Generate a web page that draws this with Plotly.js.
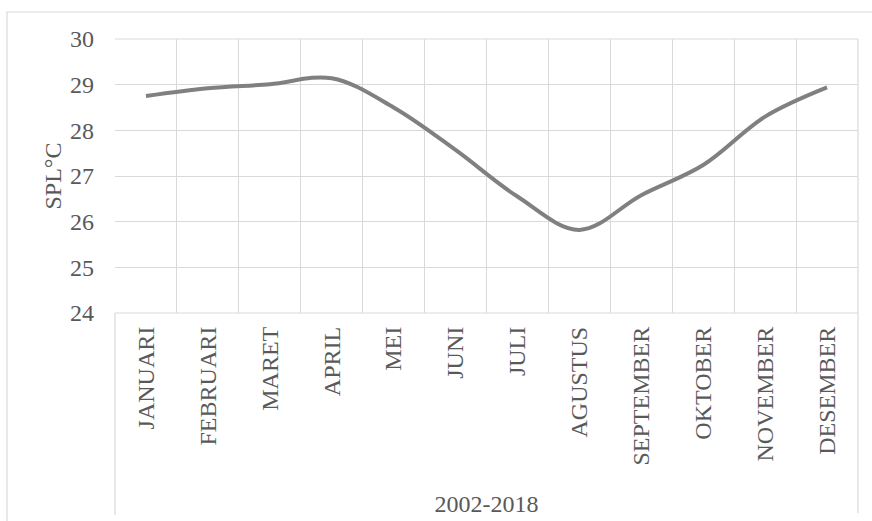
<!DOCTYPE html>
<html>
<head>
<meta charset="utf-8">
<script src="https://cdn.plot.ly/plotly-3.0.1.min.js"></script>
<style>
  html, body { margin: 0; padding: 0; background: #ffffff; }
  #chart { width: 872px; height: 521px; }
</style>
</head>
<body>
<div id="chart"></div>
<script>
const months = ["JANUARI", "FEBRUARI", "MARET", "APRIL", "MEI", "JUNI", "JULI",
                "AGUSTUS", "SEPTEMBER", "OKTOBER", "NOVEMBER", "DESEMBER"];
const spl = [28.75, 28.92, 29.01, 29.14, 28.5, 27.57, 26.55, 25.82, 26.58, 27.24, 28.3, 28.94];
const yTicks = [24, 25, 26, 27, 28, 29, 30];
const periodLabel = "2002-2018";
const yLabel = "SPL°C";

const textColor = "#595959";
const gridColor = "#d9d9d9";
const fontFamily = "Liberation Serif, Times New Roman, serif";
const fs = 24;

const trace = {
  type: "scatter",
  mode: "lines",
  x: months,
  y: spl,
  line: { color: "#808080", width: 4, shape: "spline", smoothing: 1 },
  hoverinfo: "x+y",
  showlegend: false
};

const layout = {
  width: 872,
  height: 521,
  margin: { l: 115, r: 14, t: 39, b: 208 },
  paper_bgcolor: "#ffffff",
  plot_bgcolor: "#ffffff",
  font: { family: fontFamily, color: textColor, size: fs },
  showlegend: false,
  xaxis: {
    type: "category",
    categoryarray: months,
    range: [-0.5, months.length - 0.5],
    tickangle: -90,
    tickson: "boundaries",
    ticks: "",
    showgrid: true,
    gridcolor: gridColor,
    gridwidth: 1,
    showline: false,
    zeroline: false,
    ticklabelstandoff: 8,
    tickfont: { family: fontFamily, color: textColor, size: fs },
    title: { text: periodLabel, standoff: 30, font: { family: fontFamily, color: textColor, size: fs } },
    automargin: false,
    fixedrange: true
  },
  yaxis: {
    range: [24, 30],
    tickvals: yTicks,
    ticktext: yTicks.map(String),
    showgrid: true,
    gridcolor: gridColor,
    gridwidth: 1,
    zeroline: false,
    showline: false,
    ticks: "",
    ticklabelstandoff: 20,
    tickfont: { family: fontFamily, color: textColor, size: fs },
    title: { text: yLabel, standoff: 1, font: { family: fontFamily, color: textColor, size: fs } },
    automargin: false,
    fixedrange: true
  },
  shapes: [
    { type: "rect", xref: "paper", yref: "paper", x0: -0.1454, x1: 1.2, y0: -1.2, y1: 1.0985,
      line: { color: gridColor, width: 1.2 }, fillcolor: "rgba(0,0,0,0)", layer: "below" },
    { type: "line", xref: "paper", yref: "paper", x0: 0, x1: 0, y0: 0, y1: -0.737,
      line: { color: gridColor, width: 1.2 } },
    { type: "line", xref: "paper", yref: "paper", x0: 1, x1: 1, y0: 1, y1: -0.73,
      line: { color: gridColor, width: 1.2 } },
    { type: "line", xref: "paper", yref: "paper", x0: 0, x1: 1, y0: 0, y1: 0,
      line: { color: gridColor, width: 1.2 } },
    { type: "line", xref: "paper", yref: "paper", x0: 0, x1: 1, y0: 1, y1: 1,
      line: { color: gridColor, width: 1.2 } }
  ]
};

Plotly.newPlot("chart", [trace], layout, { staticPlot: true, displayModeBar: false });
</script>
</body>
</html>
